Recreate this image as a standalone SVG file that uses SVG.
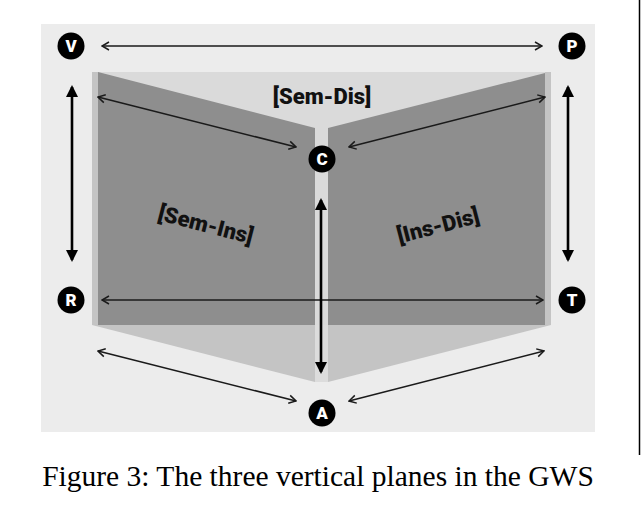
<svg xmlns="http://www.w3.org/2000/svg" width="642" height="527" viewBox="0 0 642 527">
  <style>
    .panel { fill: #ececec; }
    .back { fill: #dadada; }
    .wall { fill: #8e8e8e; }
    .edge { fill: #c4c4c4; }
    .gap { fill: #dcdcdc; }
    .thin { stroke: #1a1a1a; stroke-width: 1.5; fill: none; }
    .thick { stroke: #000; stroke-width: 2.6; fill: none; }
    .dot { fill: #000; }
    .key { font-family: Roboto, "Liberation Sans", sans-serif; font-weight: 900; font-size: 17px; fill: #fff; text-anchor: middle; }
    .plane { font-family: Roboto, "Liberation Sans", sans-serif; font-weight: 900; font-size: 22px; fill: #111; text-anchor: middle; }
    .caption { font-family: "Liberation Serif", "Times New Roman", serif; font-size: 29.5px; fill: #000; text-anchor: middle; }
  </style>
  <defs>
    <marker id="open" viewBox="0 0 10 10" refX="9" refY="5" markerWidth="10" markerHeight="10" markerUnits="userSpaceOnUse" orient="auto-start-reverse">
      <path d="M2,1 L9,5 L2,9" fill="none" stroke="#1a1a1a" stroke-width="1.5"/>
    </marker>
    <marker id="solid" viewBox="0 0 12 12" refX="10" refY="6" markerWidth="12" markerHeight="12" markerUnits="userSpaceOnUse" orient="auto-start-reverse">
      <path d="M0,0 L12,6 L0,12 z" fill="#000"/>
    </marker>
  </defs>

  <!-- page rule on the right -->
  <line x1="639.5" y1="0" x2="639.5" y2="455" stroke="#000" stroke-width="1.5"/>

  <!-- backdrop -->
  <rect class="panel" x="41" y="24" width="554" height="408"/>

  <!-- the three planes -->
  <g id="planes">
    <rect class="back" x="92" y="72" width="459" height="253"/>
    <rect class="edge" x="92" y="72" width="6" height="253"/>
    <rect class="edge" x="545" y="72" width="6" height="253"/>
    <polygon class="wall" points="98,72 315,128 315,325 98,325"/>
    <polygon class="wall" points="328,128 545,73 545,325 328,325"/>
    <polygon class="edge" points="92,325 315,325 315,382"/>
    <polygon class="edge" points="328,325 551,325 328,382"/>
    <rect class="gap" x="315" y="325" width="13" height="57"/>
  </g>

  <!-- plane labels -->
  <g id="label-sem-dis"><text class="plane" x="322" y="104">[Sem-Dis]</text></g>
  <g id="label-sem-ins"><text class="plane" transform="translate(204,232) rotate(14.5)">[Sem-Ins]</text></g>
  <g id="label-ins-dis"><text class="plane" transform="translate(440,233) rotate(-14.5)">[Ins-Dis]</text></g>

  <!-- connectors -->
  <g id="connectors">
    <line class="thin" x1="102" y1="46" x2="542" y2="46" marker-start="url(#open)" marker-end="url(#open)"/>
    <line class="thin" x1="102" y1="300" x2="543" y2="300" marker-start="url(#open)" marker-end="url(#open)"/>
    <line class="thin" x1="98" y1="97" x2="296" y2="147" marker-start="url(#open)" marker-end="url(#open)"/>
    <line class="thin" x1="349" y1="147" x2="545" y2="97" marker-start="url(#open)" marker-end="url(#open)"/>
    <line class="thin" x1="98" y1="351" x2="296" y2="401" marker-start="url(#open)" marker-end="url(#open)"/>
    <line class="thin" x1="349" y1="401" x2="544" y2="351" marker-start="url(#open)" marker-end="url(#open)"/>
    <line class="thick" x1="72" y1="87" x2="72" y2="260" marker-start="url(#solid)" marker-end="url(#solid)"/>
    <line class="thick" x1="568" y1="87" x2="568" y2="260" marker-start="url(#solid)" marker-end="url(#solid)"/>
    <line class="thick" x1="321" y1="200" x2="321" y2="372" marker-start="url(#solid)" marker-end="url(#solid)"/>
  </g>

  <!-- vertices -->
  <g id="node-V"><circle class="dot" cx="71" cy="46" r="13.5"/><text class="key" x="71" y="52">V</text></g>
  <g id="node-P"><circle class="dot" cx="572" cy="46" r="13.5"/><text class="key" x="572" y="52">P</text></g>
  <g id="node-C"><circle class="dot" cx="322" cy="159" r="13.5"/><text class="key" x="322" y="165">C</text></g>
  <g id="node-R"><circle class="dot" cx="71" cy="300" r="13.5"/><text class="key" x="71" y="306">R</text></g>
  <g id="node-T"><circle class="dot" cx="572" cy="300" r="13.5"/><text class="key" x="572" y="306">T</text></g>
  <g id="node-A"><circle class="dot" cx="322" cy="413" r="13.5"/><text class="key" x="322" y="419">A</text></g>

  <!-- caption -->
  <text class="caption" x="318" y="486">Figure 3: The three vertical planes in the GWS</text>
</svg>
